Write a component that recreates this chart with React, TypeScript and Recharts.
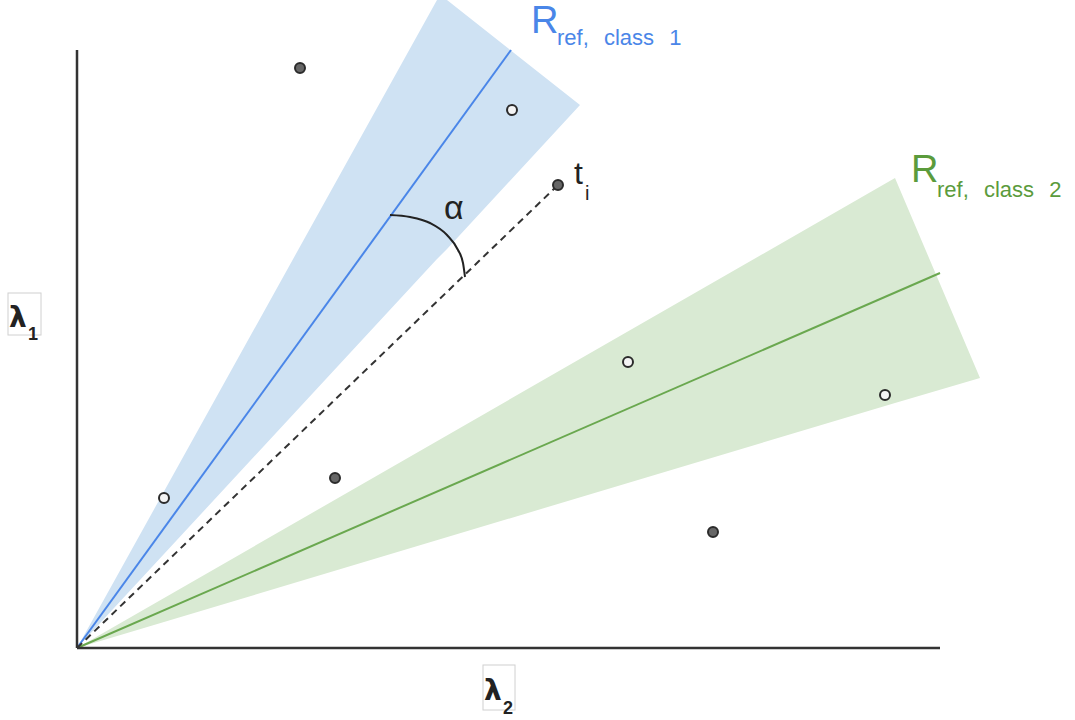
import { ComposedChart, XAxis, YAxis, Area, Line, Scatter, ReferenceLine } from "recharts";

// one data unit = 10px, origin of the diagram at the axes corner
const blueWedge = [
    { x: 0, band: [0, 0] },
    { x: 36.0, band: [38.9, 64.8] },
    { x: 37.0, band: [39.9, 64.8] },
    { x: 50.3, band: [54.3, 54.3] },
];
const greenWedge = [
    { x: 0, band: [0, 0] },
    { x: 81.8, band: [24.5, 47.0] },
    { x: 90.3, band: [27.0, 27.0] },
];
const refClass1 = [
    { x: 0, y: 0 },
    { x: 43.4, y: 59.8 },
];
const refClass2 = [
    { x: 0, y: 0 },
    { x: 86.3, y: 37.5 },
];
const testLine = [
    { x: 0, y: 0 },
    { x: 48.1, y: 46.3 },
];
const alphaArc = [
    { x: 31.3, y: 43.3 },
    { x: 33.3, y: 43.1 },
    { x: 35.3, y: 42.5 },
    { x: 37.0, y: 41.3 },
    { x: 38.1, y: 39.8 },
    { x: 38.6, y: 38.5 },
    { x: 38.8, y: 37.1 },
];
const filledPts = [
    { x: 22.3, y: 58.0 },
    { x: 48.1, y: 46.3 },
    { x: 25.8, y: 17.0 },
    { x: 63.6, y: 11.6 },
];
const openPts = [
    { x: 43.5, y: 53.8 },
    { x: 55.1, y: 28.6 },
    { x: 80.8, y: 25.3 },
    { x: 8.7, y: 15.0 },
];
const yAxisTop = 59.8;
const xAxisEnd = 86.3;

const BLUE = "#4a86e8";
const GREEN = "#5b9b3c";
const font = "'Liberation Sans', Arial, sans-serif";

function dot(fill: string) {
    return (p: any) => <circle cx={p.cx} cy={p.cy} r={5} fill={fill} stroke="#2b2b2b" strokeWidth={2} />;
}

export default function App() {
    return (
        <div style={{ position: "relative", width: 1075, height: 720, background: "#fff" }}>
            <style>{`body{margin:0}`}</style>
            <ComposedChart width={1075} height={720} margin={{ top: 0, right: 0, bottom: 0, left: 0 }}>
                <XAxis type="number" dataKey="x" domain={[-7.7, 99.8]} allowDataOverflow hide />
                <YAxis type="number" domain={[-7.2, 64.8]} allowDataOverflow hide />
                <Area data={blueWedge} dataKey="band" type="linear" fill="#cfe2f3" fillOpacity={1} stroke="none" dot={false} activeDot={false} isAnimationActive={false} />
                <Area data={greenWedge} dataKey="band" type="linear" fill="#d9ead3" fillOpacity={1} stroke="none" dot={false} activeDot={false} isAnimationActive={false} />
                <Line data={refClass1} dataKey="y" type="linear" stroke={BLUE} strokeWidth={2} dot={false} activeDot={false} isAnimationActive={false} />
                <Line data={refClass2} dataKey="y" type="linear" stroke="#6aa84f" strokeWidth={2} dot={false} activeDot={false} isAnimationActive={false} />
                <Line data={testLine} dataKey="y" type="linear" stroke="#333" strokeWidth={2} strokeDasharray="7 5" dot={false} activeDot={false} isAnimationActive={false} />
                <Line data={alphaArc} dataKey="y" type="monotone" stroke="#222" strokeWidth={2} dot={false} activeDot={false} isAnimationActive={false} />
                <ReferenceLine segment={[{ x: 0, y: 0 }, { x: 0, y: yAxisTop }]} stroke="#333" strokeWidth={2.5} />
                <ReferenceLine segment={[{ x: 0, y: 0 }, { x: xAxisEnd, y: 0 }]} stroke="#333" strokeWidth={2.5} />
                <Scatter data={filledPts} dataKey="y" shape={dot("#666")} activeShape={dot("#666")} isAnimationActive={false} />
                <Scatter data={openPts} dataKey="y" shape={dot("#f4f4f4")} activeShape={dot("#f4f4f4")} isAnimationActive={false} />
            </ComposedChart>
            <svg width={1075} height={720} style={{ position: "absolute", left: 0, top: 0, pointerEvents: "none" }}>
                <text x={531} y={33} fontFamily={font} fontSize={38} fill={BLUE}>R</text>
                <text x={557} y={45} fontFamily={font} fontSize={22} fill={BLUE} wordSpacing={9}>ref, class 1</text>
                <text x={911} y={182} fontFamily={font} fontSize={38} fill={GREEN}>R</text>
                <text x={937} y={197} fontFamily={font} fontSize={22} fill={GREEN} wordSpacing={9}>ref, class 2</text>
                <text x={444} y={219} fontFamily={font} fontSize={34} fill="#222">α</text>
                <text x={574} y={184} fontFamily={font} fontSize={32} fill="#222">t</text>
                <text x={585} y={200} fontFamily={font} fontSize={20} fill="#222">i</text>
                <rect x={8} y={293} width={33} height={42} fill="none" stroke="#d0d0d0" strokeWidth={1} />
                <text x={9} y={327} fontFamily="'DejaVu Sans', sans-serif" fontWeight="bold" fontSize={28} fill="#222">λ</text>
                <text x={28} y={340} fontFamily={font} fontWeight="bold" fontSize={18} fill="#222">1</text>
                <rect x={483} y={665} width={32} height={45} fill="none" stroke="#d0d0d0" strokeWidth={1} />
                <text x={484} y={700} fontFamily="'DejaVu Sans', sans-serif" fontWeight="bold" fontSize={28} fill="#222">λ</text>
                <text x={503} y={714} fontFamily={font} fontWeight="bold" fontSize={18} fill="#222">2</text>
            </svg>
        </div>
    );
}
